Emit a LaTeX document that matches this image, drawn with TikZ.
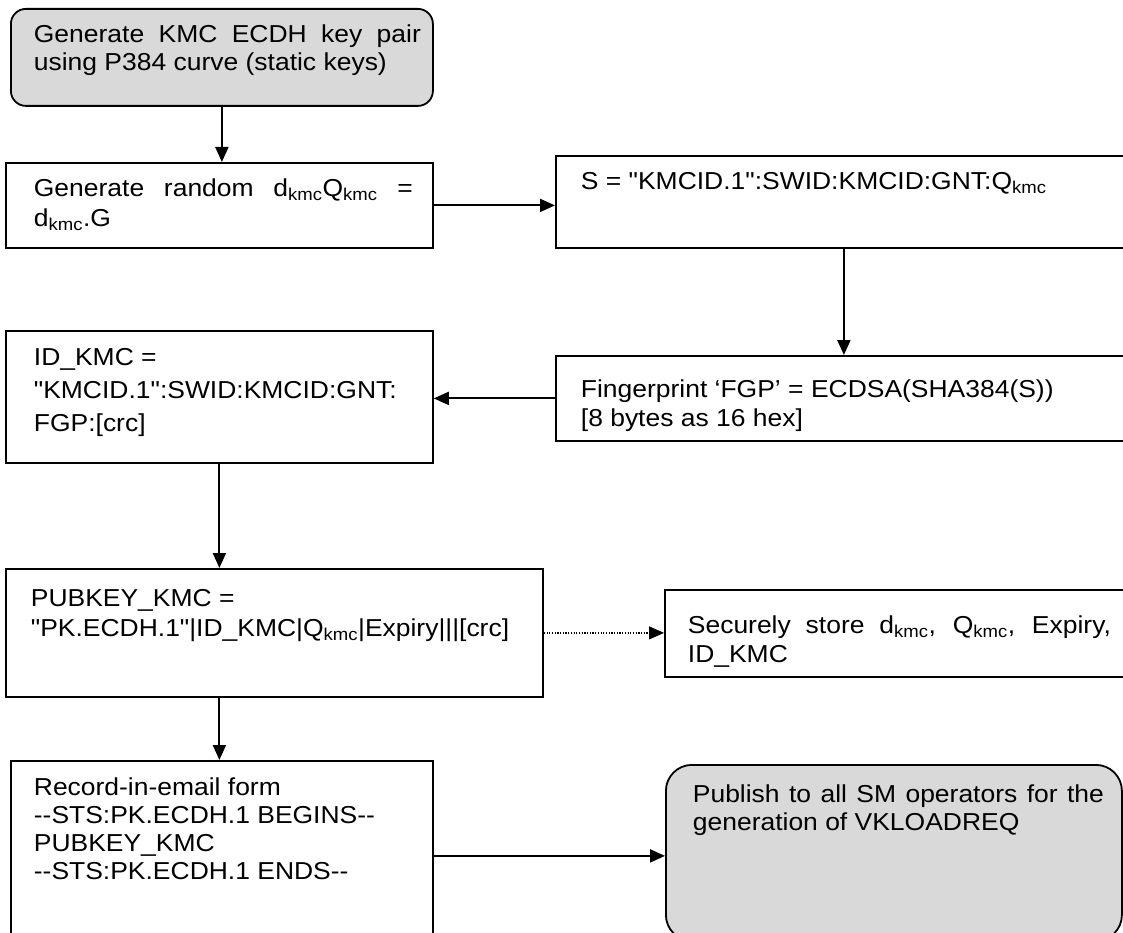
\documentclass[tikz,border=0pt]{standalone}
\usepackage{fontspec}
\setmainfont{Liberation Sans}
\newfontfamily\boxfont{Liberation Sans}[FakeStretch=1.08] % no TeX ligatures: straight " and plain --
\usepackage{tikz}
\usetikzlibrary{arrows.meta}
\usepackage{xcolor}
\definecolor{startgray}{RGB}{217,217,217}
\tolerance=9999
\hyphenpenalty=10000
\newcommand{\kmc}{\textsubscript{kmc}}
% box width, box height, first baseline, left margin, right margin, text
\newcommand{\boxtext}[6]{\parbox[c][#2][t]{#1}{\leftskip=#4\rightskip=#5\rule{0pt}{#3}#6}}

\tikzset{
  stepbox/.style={draw, line width=1.8pt, anchor=north west, inner sep=0pt,
    font=\boxfont\fontsize{24.5}{28}\selectfont},
  roundbox/.style={stepbox, rounded corners=15pt, fill=startgray},
  flow/.style={line width=2pt, -{Triangle[length=15pt,width=13pt]}}
}

\begin{document}
\begin{tikzpicture}[x=1pt, y=-1pt]
        \useasboundingbox (0,0) rectangle (1123,933);

        % left column
        \node[roundbox, font=\boxfont\fontsize{24.5}{27.5}\selectfont] (keygen) at (10,8) {\boxtext{422pt}{97pt}{34pt}{23pt}{12pt}{Generate KMC ECDH key pair using P384 curve (static keys)}};
        \node[stepbox, font=\boxfont\fontsize{24.5}{30}\selectfont] (rand) at (5,162) {\boxtext{427pt}{85pt}{34pt}{28pt}{20pt}{Generate random d\kmc Q\kmc{} = d\kmc.G}};
        \node[stepbox, font=\boxfont\fontsize{24.5}{33}\selectfont] (idkmc) at (5,330) {\boxtext{427pt}{132pt}{35pt}{28pt}{10pt}{ID\_KMC =\\ "KMCID.1":SWID:KMCID:GNT:\\ FGP:[crc]}};
        \node[stepbox, font=\boxfont\fontsize{24.5}{30}\selectfont] (pubkey) at (5,568) {\boxtext{537pt}{128pt}{38pt}{25pt}{10pt}{PUBKEY\_KMC =\\ "PK.ECDH.1"|ID\_KMC|Q\kmc|Expiry|||[crc]}};
        \node[stepbox] (record) at (10,760) {\boxtext{422pt}{190pt}{35pt}{23pt}{10pt}{Record-in-email form\\ --STS:PK.ECDH.1 BEGINS--\\ PUBKEY\_KMC\\ --STS:PK.ECDH.1 ENDS--}};

        % right column (boxes run past the right edge)
        \node[stepbox] (sval) at (555,155) {\boxtext{576pt}{92pt}{34pt}{25pt}{10pt}{S = "KMCID.1":SWID:KMCID:GNT:Q\kmc}};
        \node[stepbox, font=\boxfont\fontsize{24.5}{29}\selectfont] (fgp) at (555,355) {\boxtext{576pt}{85pt}{42pt}{25pt}{10pt}{Fingerprint ‘FGP’ = ECDSA(SHA384(S))\\ {}[8 bytes as 16 hex]}};
        \node[stepbox, font=\boxfont\fontsize{24.5}{29}\selectfont] (store) at (664,589) {\boxtext{476pt}{87pt}{44pt}{23pt}{30pt}{Securely store d\kmc, Q\kmc, Expiry, ID\_KMC}};
        \node[roundbox, rounded corners=26pt, font=\boxfont\fontsize{24.5}{27.5}\selectfont] (publish) at (665,764) {\boxtext{456pt}{176pt}{38pt}{27pt}{18pt}{Publish to all SM operators for the generation of VKLOADREQ}};

        % connectors
        \draw[flow] (keygen.south) -- (keygen.south |- rand.north);
        \draw[flow] (rand.east) -- (rand.east -| sval.west);
        \draw[flow] (sval.south) -- (sval.south |- fgp.north);
        \draw[flow] (fgp.west) -- (fgp.west -| idkmc.east);
        \draw[flow] (idkmc.south) -- (idkmc.south |- pubkey.north);
        \draw[flow, line width=1.2pt, dash pattern=on 1.2pt off 1.5pt] (pubkey.east) -- (pubkey.east -| store.west); % dotted link
        \draw[flow] (idkmc.south |- pubkey.south) -- (idkmc.south |- record.north);
        \draw[flow] (record.east) -- (record.east -| publish.west);
\end{tikzpicture}
\end{document}
